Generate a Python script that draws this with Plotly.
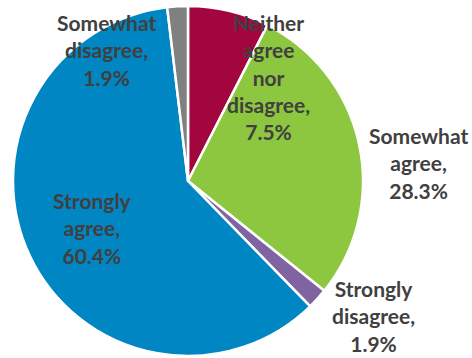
import plotly.graph_objects as go

# Survey responses, listed clockwise from 12 o'clock
categories = ["Neither agree nor disagree", "Somewhat agree", "Strongly disagree",
              "Strongly agree", "Somewhat disagree"]
shares = [7.5, 28.3, 1.9, 60.4, 1.9]
colors = ["#A3053F", "#8DC63F", "#8064A2", "#0086C2", "#808080"]

# Label text broken over lines, plus where each label's block is centred (px)
label_lines = {
    "Neither agree nor disagree": ["Neither", "agree", "nor", "disagree,"],
    "Somewhat agree": ["Somewhat", "agree,"],
    "Strongly disagree": ["Strongly", "disagree,"],
    "Strongly agree": ["Strongly", "agree,"],
    "Somewhat disagree": ["Somewhat", "disagree,"],
}
label_centres = {
    "Neither agree nor disagree": (268, 77),
    "Somewhat agree": (418, 163),
    "Strongly disagree": (373, 316),
    "Strongly agree": (92, 228),
    "Somewhat disagree": (106, 50),
}

W, H = 472, 358
cx, cy, r = 188, 181, 175

fig = go.Figure(go.Pie(
    labels=categories,
    values=shares,
    sort=False,
    direction="clockwise",
    rotation=0,
    marker=dict(colors=colors, line=dict(color="white", width=2.5)),
    textinfo="none",
    hoverinfo="label+percent",
    domain=dict(x=[(cx - r) / W, (cx + r) / W], y=[(H - cy - r) / H, (H - cy + r) / H]),
    showlegend=False,
))

for cat, val in zip(categories, shares):
    x, y = label_centres[cat]
    text = "<br>".join(label_lines[cat] + [f"{val:.1f}%"])
    fig.add_annotation(
        x=x / W, y=1 - y / H, xref="paper", yref="paper",
        text=text, showarrow=False, xanchor="center", yanchor="middle",
        align="center",
        font=dict(family="Lato", size=21, color="#404040", weight="bold"),
    )

fig.update_layout(
    width=W, height=H,
    margin=dict(l=0, r=0, t=0, b=0),
    paper_bgcolor="white",
    plot_bgcolor="white",
)

fig.write_html("out.html")
